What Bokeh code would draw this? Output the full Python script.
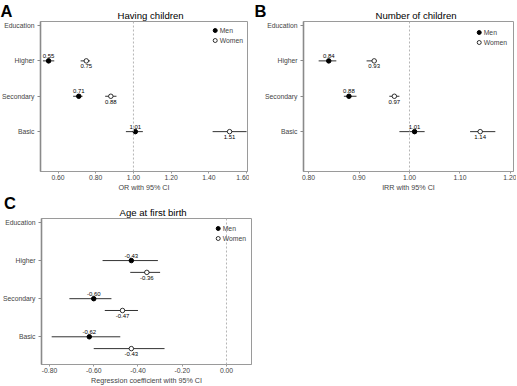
from bokeh.plotting import figure
from bokeh.models import (Range1d, FixedTicker, NumeralTickFormatter, Span, Label,
                          Legend, LegendItem, ColumnDataSource)
from bokeh.core.properties import value
from bokeh.layouts import column, row
from bokeh.embed import file_html
from bokeh.resources import INLINE

FONT = "Liberation Sans"

header = "Education"
categories = ["Higher", "Secondary", "Basic"]

# Panel A: Having children (OR with 95% CI)
a_men = [0.55, 0.71, 1.01]
a_men_lo = [0.52, 0.68, 0.96]
a_men_hi = [0.58, 0.73, 1.05]
a_women = [0.75, 0.88, 1.51]
a_women_lo = [0.72, 0.85, 1.42]
a_women_hi = [0.77, 0.91, 1.60]
a_ticks = [0.6, 0.8, 1.0, 1.2, 1.4, 1.6]

# Panel B: Number of children (IRR with 95% CI)
b_men = [0.84, 0.88, 1.01]
b_men_lo = [0.82, 0.87, 0.98]
b_men_hi = [0.855, 0.895, 1.03]
b_women = [0.93, 0.97, 1.14]
b_women_lo = [0.915, 0.96, 1.12]
b_women_hi = [0.935, 0.98, 1.17]
b_ticks = [0.8, 0.9, 1.0, 1.1, 1.2]

# Panel C: Age at first birth (regression coefficient with 95% CI)
c_men = [-0.43, -0.60, -0.62]
c_men_lo = [-0.56, -0.71, -0.79]
c_men_hi = [-0.31, -0.52, -0.48]
c_women = [-0.36, -0.47, -0.43]
c_women_lo = [-0.435, -0.55, -0.60]
c_women_hi = [-0.30, -0.40, -0.28]
c_ticks = [-0.8, -0.6, -0.4, -0.2, 0.0]


def panel(letter, title, xlabel, men, mlo, mhi, women, wlo, whi, ticks, xr, yr, ref,
          woff, fw, fh, bl, br, bt, bb, title_off, lx, ly, lplace, margin, lmargin):
    p = figure(output_backend="svg", toolbar_location=None,
               frame_width=fw, frame_height=fh,
               min_border_left=bl, min_border_right=br,
               min_border_top=bt, min_border_bottom=bb,
               x_range=Range1d(*xr), y_range=Range1d(*yr), margin=margin)
    p.background_fill_color = "white"
    p.border_fill_color = "white"
    p.outline_line_color = "#9a9a9a"
    p.outline_line_width = 1
    p.grid.visible = False

    p.title.text = title
    p.title.align = "left"
    p.title.offset = title_off
    p.title.text_font = FONT
    p.title.text_font_size = "9.6px"
    p.title.text_font_style = "normal"
    p.title.text_color = "black"
    p.title.standoff = 1

    xa = p.xaxis[0]
    xa.ticker = FixedTicker(ticks=ticks)
    xa.formatter = NumeralTickFormatter(format="0.00")
    xa.axis_label = xlabel
    xa.axis_label_text_font = FONT
    xa.axis_label_text_font_size = "7.2px"
    xa.axis_label_text_font_style = "normal"
    xa.axis_label_standoff = 0
    xa.major_label_text_font = FONT
    xa.major_label_text_font_size = "6.8px"
    xa.major_label_standoff = 1
    xa.major_tick_out = 2
    xa.major_tick_in = 0
    xa.minor_tick_out = 0
    xa.minor_tick_in = 0
    xa.axis_line_color = "#9a9a9a"
    xa.major_tick_line_color = "#9a9a9a"

    ya = p.yaxis[0]
    ya.ticker = FixedTicker(ticks=[0, 1, 2, 3])
    ya.major_label_overrides = {0: header, 1: categories[0], 2: categories[1], 3: categories[2]}
    ya.major_label_text_font = FONT
    ya.major_label_text_font_size = "6.8px"
    ya.major_label_standoff = 3
    ya.major_tick_out = 3
    ya.major_tick_in = 0
    ya.minor_tick_out = 0
    ya.minor_tick_in = 0
    ya.axis_line_color = "#8a8a8a"
    ya.axis_line_width = 1.6
    ya.major_tick_line_color = "#8a8a8a"

    p.add_layout(Span(location=ref, dimension="height", line_color="#b5b5b5",
                      line_dash="2 2", line_width=1))

    ym = [1, 2, 3]
    yw = [1 + woff, 2 + woff, 3 + woff]
    ms = ColumnDataSource(dict(x=men, lo=mlo, hi=mhi, y=ym, t=[f"{v:.2f}" for v in men]))
    ws = ColumnDataSource(dict(x=women, lo=wlo, hi=whi, y=yw, t=[f"{v:.2f}" for v in women]))

    p.segment(x0="lo", x1="hi", y0="y", y1="y", source=ms, line_color="#333333", line_width=1)
    p.segment(x0="lo", x1="hi", y0="y", y1="y", source=ws, line_color="#333333", line_width=1)
    rm = p.scatter(x="x", y="y", source=ms, marker="circle", size=4.5,
                   fill_color="black", line_color="black", line_width=1)
    rw = p.scatter(x="x", y="y", source=ws, marker="circle", size=4.5,
                   fill_color="white", line_color="black", line_width=0.8)
    p.text(x="x", y="y", text="t", source=ms, text_align="center", text_baseline="bottom",
           y_offset=-3, text_font_size="6px", text_font=value(FONT), text_color="black")
    p.text(x="x", y="y", text="t", source=ws, text_align="center", text_baseline="top",
           y_offset=3.5, text_font_size="6px", text_font=value(FONT), text_color="black")

    legend = Legend(items=[LegendItem(label="Men", renderers=[rm]),
                           LegendItem(label="Women", renderers=[rw])],
                    location="top_right", border_line_color=None, background_fill_alpha=0,
                    label_text_font=FONT, label_text_font_size="6.8px",
                    glyph_width=10, glyph_height=10, label_height=10, label_standoff=0,
                    spacing=0, padding=0, margin=lmargin)
    p.add_layout(legend)

    p.add_layout(Label(x=lx, y=ly, x_units="screen", y_units="screen", text=letter,
                       text_font=FONT, text_font_size="16.5px", text_font_style="bold",
                       text_color="black", text_baseline="middle", text_align="left"),
                 lplace)
    return p


pA = panel("A", "Having children", "OR with 95% CI",
           a_men, a_men_lo, a_men_hi, a_women, a_women_lo, a_women_hi, a_ticks,
           (0.507, 1.605), (4.127, -0.113), 1.0, 0.0,
           207, 150, 55, 2, 21, 18, 77, 13.0, 161, "left", (0, 0, 0, -15), 4)
pB = panel("B", "Number of children", "IRR with 95% CI",
           b_men, b_men_lo, b_men_hi, b_women, b_women_lo, b_women_hi, b_ticks,
           (0.790, 1.206), (4.127, -0.113), 1.0, 0.0,
           210, 150, 54, 3, 21, 18, 72, 4.0, 161, "left", (0, 0, 0, 0), 6)
pC = panel("C", "Age at first birth", "Regression coefficient with 95% CI",
           c_men, c_men_lo, c_men_hi, c_women, c_women_lo, c_women_hi, c_ticks,
           (-0.836, 0.113), (3.727, -0.104), 0.0, 0.31,
           210, 146, 39, 14, 24, 20, 78, -247.5, 162, "right", (0, 0, 0, 0), 5)

layout = column(row(pA, pB, spacing=0), pC, spacing=0)
open("out.html", "w").write(file_html(layout, INLINE))
